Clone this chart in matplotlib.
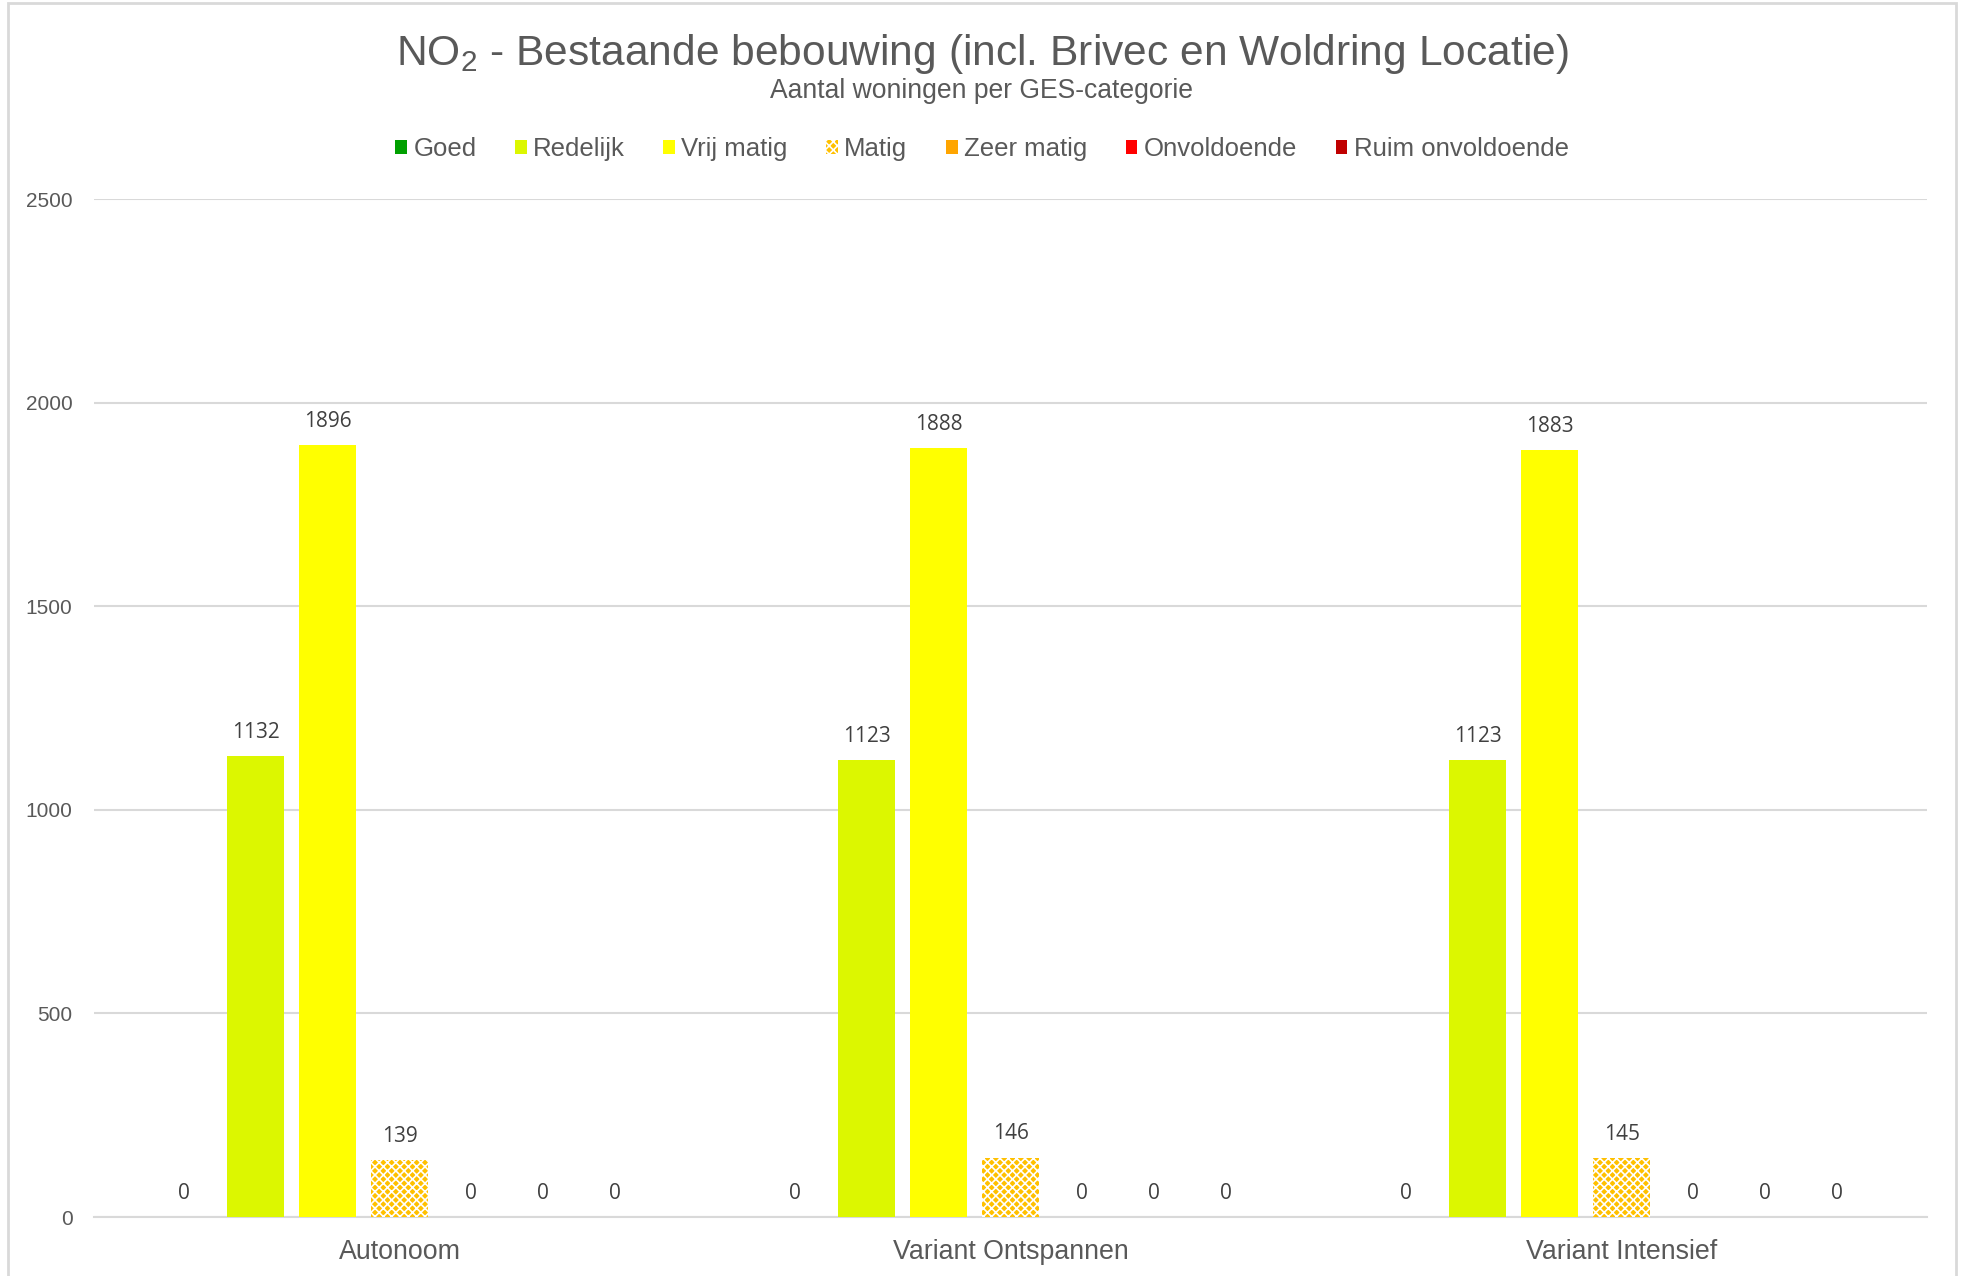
import matplotlib
matplotlib.use("Agg")
import matplotlib.pyplot as plt
import numpy as np
from matplotlib.patches import Rectangle

plt.rcParams['font.family'] = ['Liberation Sans', 'DejaVu Sans']
plt.rcParams['mathtext.default'] = 'regular'
plt.rcParams['hatch.linewidth'] = 1.2

categories = ['Autonoom', 'Variant Ontspannen', 'Variant Intensief']
series_names = ['Goed', 'Redelijk', 'Vrij matig', 'Matig', 'Zeer matig', 'Onvoldoende', 'Ruim onvoldoende']
goed = [0, 0, 0]
redelijk = [1132, 1123, 1123]
vrij_matig = [1896, 1888, 1883]
matig = [139, 146, 145]
zeer_matig = [0, 0, 0]
onvoldoende = [0, 0, 0]
ruim_onvoldoende = [0, 0, 0]
series_values = [goed, redelijk, vrij_matig, matig, zeer_matig, onvoldoende, ruim_onvoldoende]
colors = ['#00A000', '#DCF700', '#FFFF00', '#FFC000', '#FFA500', '#FF0000', '#C00000']
yticks = [0, 500, 1000, 1500, 2000, 2500]

fig = plt.figure(figsize=(19.64, 12.76), dpi=100)
ax = fig.add_axes([0.0479, 0.0462, 0.9333, 0.7978])

x = np.arange(len(categories))
step = 0.1175
width = 0.0933
handles = []
for j, (name, vals, col) in enumerate(zip(series_names, series_values, colors)):
    pos = x + (j - 3) * step
    if name == 'Matig':
        bars = ax.bar(pos, vals, width, color=col, edgecolor='white', hatch='xxxx',
                      linewidth=0, label=name, zorder=3)
    else:
        bars = ax.bar(pos, vals, width, color=col, linewidth=0, label=name, zorder=3)
    handles.append(bars)
    for p, v in zip(pos, vals):
        ax.annotate(f'{v}', xy=(p, v), xytext=(0, 17), textcoords='offset points',
                    ha='center', va='center', fontsize=15, color='#404040',
                    family=['Open Sans', 'DejaVu Sans'])

ax.set_xlim(-0.5, len(categories) - 0.5)
ax.set_ylim(0, 2500)
ax.set_yticks(yticks)
ax.set_yticklabels([str(t) for t in yticks])
ax.set_xticks(x)
ax.set_xticklabels(categories)
ax.grid(axis='y', color='#D9D9D9', linewidth=1.5, zorder=0)
ax.set_axisbelow(True)
for s in ['top', 'right', 'left']:
    ax.spines[s].set_visible(False)
ax.spines['bottom'].set_color('#D9D9D9')
ax.spines['bottom'].set_linewidth(1.5)
ax.tick_params(axis='y', length=0, labelsize=15, labelcolor='#595959', pad=15.5)
ax.tick_params(axis='x', length=0, labelsize=19.3, labelcolor='#595959', pad=16)

fig.text(0.5, 0.958, 'NO$_2$ - Bestaande bebouwing (incl. Brivec en Woldring Locatie)',
         ha='center', va='center', fontsize=30.6, color='#595959')
fig.text(0.5, 0.929, 'Aantal woningen per GES-categorie', ha='center', va='center',
         fontsize=19.1, color='#595959')

leg = fig.legend(handles=handles, labels=series_names, loc='center', bbox_to_anchor=(0.5, 0.883),
                 ncol=7, frameon=False, fontsize=18.5, handlelength=0.45, handleheight=0.45,
                 handletextpad=0.25, columnspacing=1.5, labelcolor='#595959')

fig.patches.append(Rectangle((8 / 1964, -0.01), (1956 - 8) / 1964, 1 - 3 / 1276 + 0.01,
                             transform=fig.transFigure, fill=False, edgecolor='#D9D9D9',
                             linewidth=2, zorder=0))

fig.savefig('out.png', dpi=100)
